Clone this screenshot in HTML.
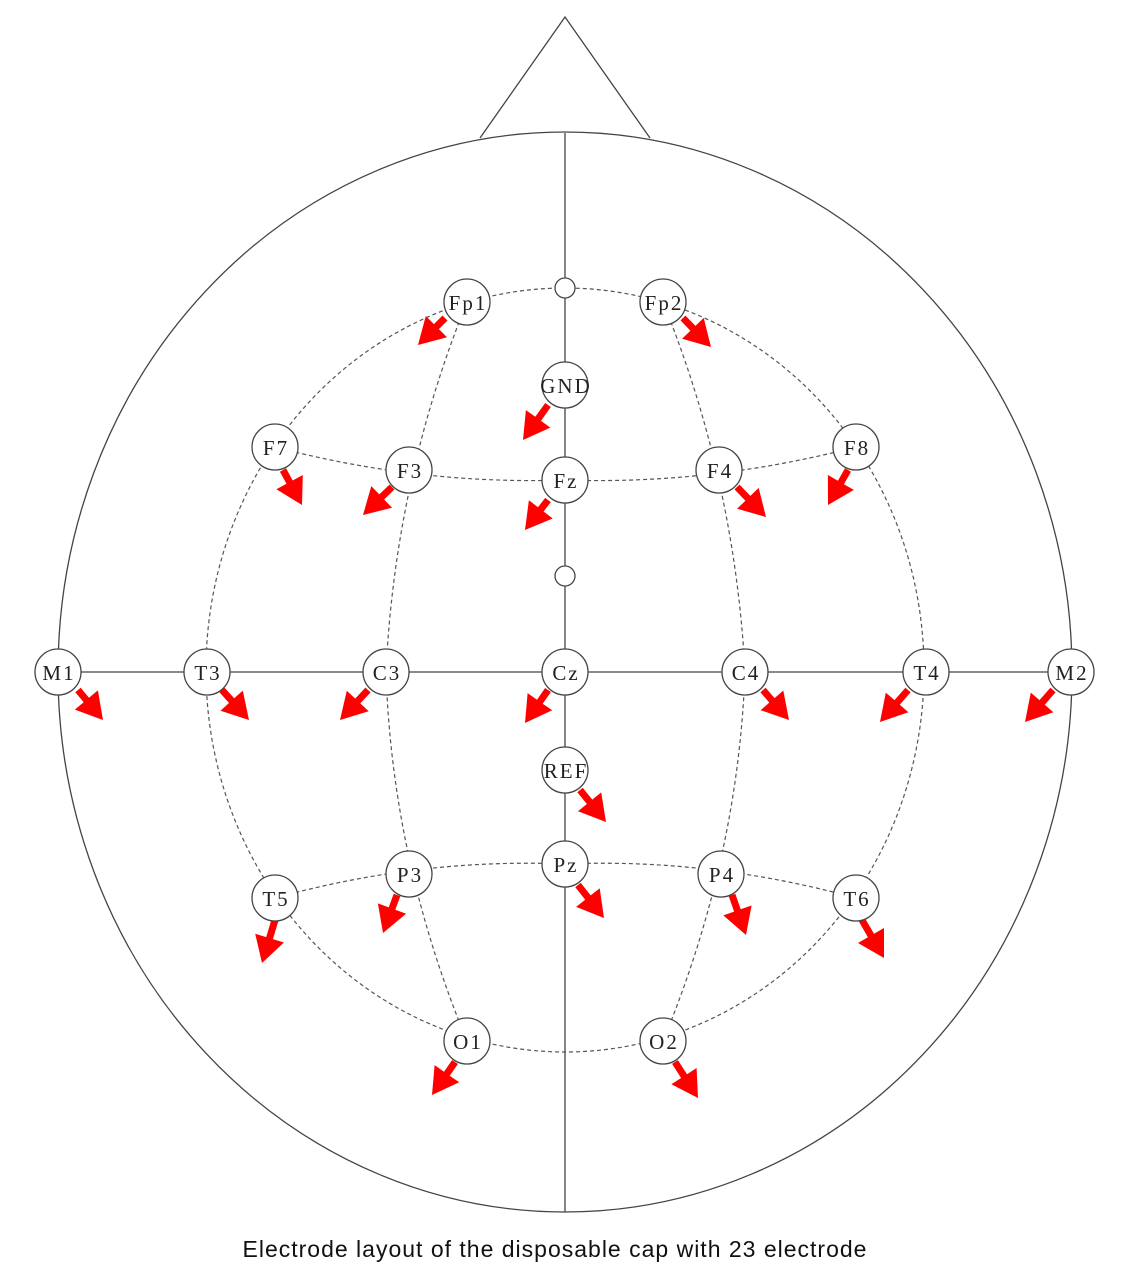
<!DOCTYPE html>
<html><head><meta charset="utf-8"><style>
html,body{margin:0;padding:0;background:#fff;}
svg{display:block;}
.lbl{font-family:"Liberation Serif",serif;font-size:21px;fill:#222;text-anchor:middle;letter-spacing:2px;}
.cap{font-family:"Liberation Sans",sans-serif;font-size:23px;fill:#111;text-anchor:middle;letter-spacing:1px;}
</style></head><body>
<svg id="s" width="1141" height="1280" viewBox="0 0 1141 1280">
<g fill="none" stroke="#444" stroke-width="1.3">
<polyline points="480,138 565,17 650,138"/>
<ellipse cx="565" cy="672" rx="507" ry="540" fill="#fff"/>
<line x1="565" y1="133" x2="565" y2="1212"/>
<line x1="58" y1="672" x2="1071" y2="672"/>
</g>
<g fill="none" stroke="#555" stroke-width="1.2" stroke-dasharray="4,3">
<ellipse cx="565" cy="670" rx="359" ry="382"/>
<path d="M467,302 Q395,480 386,672 Q392,860 467,1041"/>
<path d="M663,302 Q735,480 745,672 Q738,860 663,1041"/>
<path d="M275,447 Q420,485 565,480 Q710,485 856,447"/>
<path d="M275,898 Q420,858 565,864 Q710,858 856,898"/>
</g>
<g id="arrows" fill="#f00"></g>
<g id="nodes" fill="#fff" stroke="#444" stroke-width="1.3">
<circle cx="565" cy="288" r="10"/>
<circle cx="565" cy="576" r="10"/>
</g>
<text class="lbl" x="468" y="310">Fp1</text>
<text class="lbl" x="664" y="310">Fp2</text>
<text class="lbl" x="566" y="393">GND</text>
<text class="lbl" x="276" y="455">F7</text>
<text class="lbl" x="410" y="478">F3</text>
<text class="lbl" x="566" y="488">Fz</text>
<text class="lbl" x="720" y="478">F4</text>
<text class="lbl" x="857" y="455">F8</text>
<text class="lbl" x="59" y="680">M1</text>
<text class="lbl" x="208" y="680">T3</text>
<text class="lbl" x="387" y="680">C3</text>
<text class="lbl" x="566" y="680">Cz</text>
<text class="lbl" x="746" y="680">C4</text>
<text class="lbl" x="927" y="680">T4</text>
<text class="lbl" x="1072" y="680">M2</text>
<text class="lbl" x="566" y="778">REF</text>
<text class="lbl" x="276" y="906">T5</text>
<text class="lbl" x="410" y="882">P3</text>
<text class="lbl" x="566" y="872">Pz</text>
<text class="lbl" x="722" y="882">P4</text>
<text class="lbl" x="857" y="906">T6</text>
<text class="lbl" x="468" y="1049">O1</text>
<text class="lbl" x="664" y="1049">O2</text>
<text class="cap" x="555" y="1257">Electrode layout of the disposable cap with 23 electrode</text>
</svg>
<script>
var NS="http://www.w3.org/2000/svg";
var nodes=[[467,302],[663,302],[565,385],[275,447],[409,470],[565,480],[719,470],[856,447],[58,672],[207,672],[386,672],[565,672],[745,672],[926,672],[1071,672],[565,770],[275,898],[409,874],[565,864],[721,874],[856,898],[467,1041],[663,1041]];
var ng=document.getElementById("nodes");
nodes.forEach(function(n){var c=document.createElementNS(NS,"circle");c.setAttribute("cx",n[0]);c.setAttribute("cy",n[1]);c.setAttribute("r",23);ng.appendChild(c);});
var arr=[[445,318,418,345],[548,405,523,440],[283,470,302,505],[392,487,363,515],[548,500,525,530],[737,487,766,517],[848,470,828,505],[683,318,711,347],[78,690,103,720],[222,690,249,720],[368,690,340,720],[548,690,525,723],[763,690,789,720],[908,690,880,722],[1053,690,1025,722],[580,790,606,822],[397,895,383,933],[578,885,604,918],[732,895,746,935],[275,920,262,963],[862,920,884,958],[455,1062,432,1095],[675,1062,698,1098]];
var ag=document.getElementById("arrows");
arr.forEach(function(a){var dx=a[2]-a[0],dy=a[3]-a[1],L=Math.hypot(dx,dy),ux=dx/L,uy=dy/L,px=-uy,py=ux;
var hl=26,sw=3.5,hw=15,bx=a[2]-ux*hl,by=a[3]-uy*hl;
var p=[[a[0]+px*sw,a[1]+py*sw],[bx+px*sw,by+py*sw],[bx+px*hw,by+py*hw],[a[2],a[3]],[bx-px*hw,by-py*hw],[bx-px*sw,by-py*sw],[a[0]-px*sw,a[1]-py*sw]];
var e=document.createElementNS(NS,"polygon");e.setAttribute("points",p.map(function(q){return q[0].toFixed(1)+","+q[1].toFixed(1)}).join(" "));ag.appendChild(e);});
</script>
</body></html>
